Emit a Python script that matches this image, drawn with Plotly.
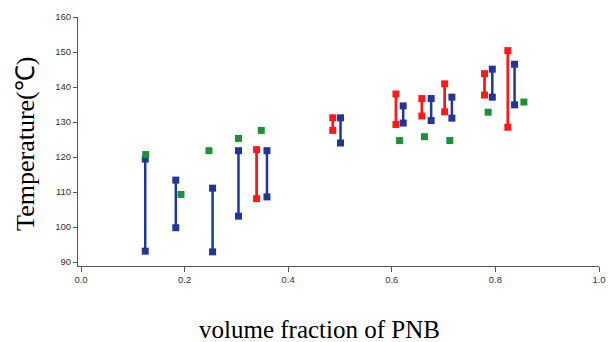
import plotly.graph_objects as go

# Blue ranges
blue_x = [0.124, 0.183, 0.254, 0.304, 0.359, 0.501, 0.622, 0.676, 0.716, 0.794, 0.837]
blue_lo = [93.1, 99.8, 92.9, 103.1, 108.6, 124.0, 129.7, 130.4, 131.1, 137.1, 134.9]
blue_hi = [119.4, 113.4, 111.1, 121.8, 121.8, 131.2, 134.6, 136.7, 137.1, 145.1, 146.5]

# Red ranges
red_x = [0.339, 0.486, 0.608, 0.658, 0.702, 0.779, 0.824]
red_lo = [108.1, 127.6, 129.3, 131.7, 132.9, 137.7, 128.5]
red_hi = [122.1, 131.2, 138.0, 136.7, 140.9, 143.8, 150.4]

# Green single points
green_x = [0.125, 0.193, 0.247, 0.304, 0.348, 0.615, 0.663, 0.712, 0.786, 0.855]
green_y = [120.7, 109.3, 121.8, 125.3, 127.6, 124.7, 125.8, 124.7, 132.8, 135.7]

x_ticks = [0.0, 0.2, 0.4, 0.6, 0.8, 1.0]
x_tick_labels = ["0.0", "0.2", "0.4", "0.6", "0.8", "1.0"]
y_ticks = [90, 100, 110, 120, 130, 140, 150, 160]


def segs(xs, lo, hi):
    X, Y = [], []
    for x, a, b in zip(xs, lo, hi):
        X += [x, x, None]
        Y += [a, b, None]
    return X, Y


fig = go.Figure()
bx, by = segs(blue_x, blue_lo, blue_hi)
rx, ry = segs(red_x, red_lo, red_hi)
fig.add_trace(go.Scatter(x=bx, y=by, mode="lines+markers",
                         line=dict(color="#22359a", width=2.5),
                         marker=dict(symbol="square", size=7, color="#22359a"),
                         showlegend=False, connectgaps=False))
fig.add_trace(go.Scatter(x=rx, y=ry, mode="lines+markers",
                         line=dict(color="#ff1a1a", width=2.8),
                         marker=dict(symbol="square", size=7, color="#ff1a1a"),
                         showlegend=False, connectgaps=False))
fig.add_trace(go.Scatter(x=green_x, y=green_y, mode="markers",
                         marker=dict(symbol="square", size=7, color="#1d9134"),
                         showlegend=False))

tickfont = dict(family="Liberation Sans, Arial, sans-serif", size=9.5, color="#333333")
fig.update_xaxes(range=[-0.0058, 1.0], tickvals=x_ticks, ticktext=x_tick_labels,
                 showgrid=False, zeroline=False, showline=True, linecolor="#555555",
                 linewidth=1, ticks="outside", ticklen=5, tickcolor="#555555",
                 tickfont=tickfont, automargin=False)
fig.update_yaxes(range=[88.86, 160], tickvals=y_ticks,
                 showgrid=False, zeroline=False, showline=True, linecolor="#555555",
                 linewidth=1, ticks="outside", ticklen=4, tickcolor="#555555",
                 tickfont=tickfont, automargin=False)

fig.update_layout(
    width=609, height=342,
    margin=dict(l=78, r=10, t=17, b=76),
    plot_bgcolor="white", paper_bgcolor="white",
    annotations=[
        dict(text="volume fraction of PNB", xref="paper", yref="paper",
             x=0.464, y=-0.257, xanchor="center", yanchor="middle", showarrow=False,
             font=dict(family="Liberation Serif, Times New Roman, serif", size=25, color="black")),
        dict(text="Temperature(℃)", xref="paper", yref="paper",
             x=-0.1, y=0.49, xanchor="center", yanchor="middle", showarrow=False,
             textangle=-90,
             font=dict(family="Liberation Serif, Times New Roman, serif", size=26, color="black")),
    ],
)

fig.write_html("out.html", config={"displayModeBar": False},
               post_script="document.body.style.margin='0';document.body.style.overflow='hidden';")
